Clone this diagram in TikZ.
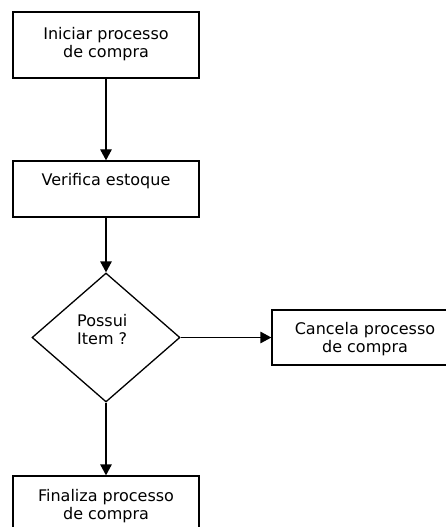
\documentclass[tikz,border=0pt]{standalone}
\usepackage{fontspec}
\setmainfont{DejaVu Sans}
\usetikzlibrary{shapes.geometric,arrows.meta}
\begin{document}
\begin{tikzpicture}[x=1bp,y=-1bp,
  box/.style={draw=black, line width=1.3bp, rectangle, minimum width=186bp, inner sep=0pt},
  dec/.style={draw=black, line width=1.3bp, diamond, minimum width=148bp, minimum height=129bp, inner sep=0pt},
  txt/.style={font=\fontsize{16bp}{18bp}\selectfont, inner sep=0pt, align=center},
  flow/.style={line width=1.3bp, -{Triangle[length=11bp,width=11.5bp]}}]
\useasboundingbox (0,0) rectangle (446,527);
\clip (0,0) rectangle (446,527);
\node[box, minimum height=66bp] (b1) at (106,45) {};
\node[txt] (t1) at (106,44) {Iniciar processo\\de compra};
\node[box, minimum height=56bp] (b2) at (106,189) {};
\node[txt] (t2) at (106,181.5) {Verifica estoque};
\node[dec] (d) at (106,337.5) {};
\node[txt, align=left, anchor=west] (t3) at (77,329.7) {Possui\\Item ?};
\node[box, minimum height=55bp] (b3) at (365,337.5) {};
\node[txt] (t4) at (365,339) {Cancela processo\\de compra};
\node[box, minimum height=66bp] (b4) at (106,509) {};
\node[txt] (t5) at (106,506.5) {Finaliza processo\\de compra};
\draw[flow] (b1.south) -- (b2.north);
\draw[flow] (b2.south) -- (d.north);
\draw[flow] (d.east) -- (b3.west);
\draw[flow] (d.south) -- (b4.north);
\end{tikzpicture}
\end{document}
